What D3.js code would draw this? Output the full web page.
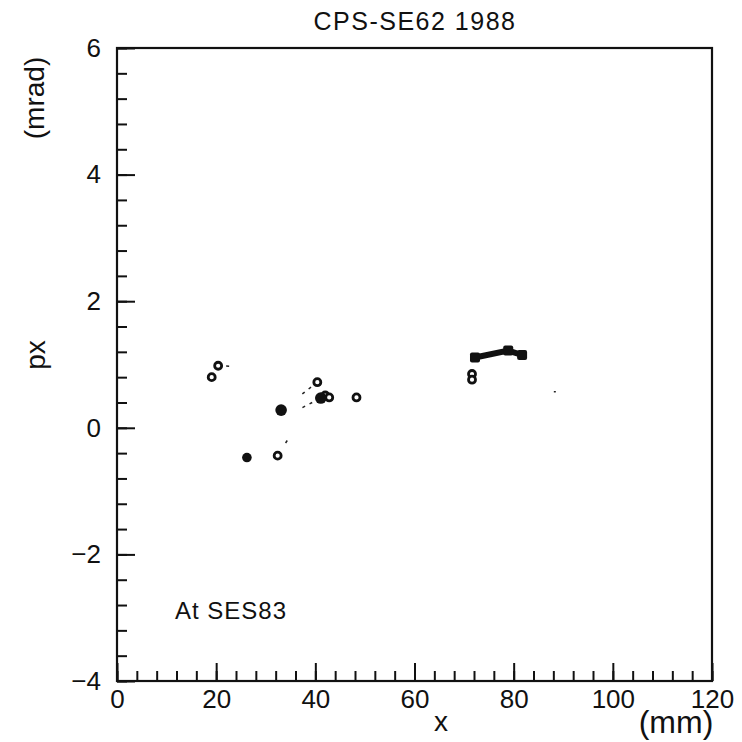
<!DOCTYPE html>
<html>
<head>
<meta charset="utf-8">
<script src="https://cdn.jsdelivr.net/npm/d3@7"></script>
<style>
  body { margin: 0; background: #fff; }
  svg text { font-family: "Liberation Sans", Arial, sans-serif; fill: #111; }
</style>
</head>
<body>
<figure id="plot" style="margin:0"></figure>
<script>
// values
const title = "CPS-SE62 1988";
const note = "At SES83";
const xMajor = [0, 20, 40, 60, 80, 100, 120];
const yMajor = [-4, -2, 0, 2, 4, 6];

// open circles (x mm, px mrad)
const openX = [19.1, 20.4, 32.4, 40.4, 42.0, 42.8, 48.3, 71.6, 71.6];
const openY = [0.80, 0.98, -0.44, 0.72, 0.51, 0.48, 0.48, 0.85, 0.76];
// filled dots
const fillX = [26.2, 33.1, 41.1];
const fillY = [-0.47, 0.28, 0.47];
// thick track with square ends
const trackX = [72.2, 78.9, 81.7];
const trackY = [1.11, 1.22, 1.15];
// faint dashed traces
const traces = [
  [[20.4, 0.98], [23.6, 0.97]],
  [[40.4, 0.72], [36.8, 0.50]],
  [[37.4, 0.32], [41.1, 0.47]],
  [[34.0, -0.24], [34.5, -0.18]],
  [[88.1, 0.57], [88.5, 0.57]]
];

const W = 742, H = 742;
const mL = 117, mR = 712, mT = 48, mB = 681;

const svg = d3.select("#plot")
  .append("svg")
  .attr("width", W)
  .attr("height", H);

const x = d3.scaleLinear().domain([0, 120]).range([mL, mR]);
const y = d3.scaleLinear().domain([-4, 6]).range([mB, mT]);

// frame
svg.append("rect")
  .attr("x", mL).attr("y", mT)
  .attr("width", mR - mL).attr("height", mB - mT)
  .attr("fill", "none").attr("stroke", "#111").attr("stroke-width", 2.2);

// x axis: minor then major (ticks point inward)
svg.append("g")
  .attr("transform", "translate(0," + mB + ")")
  .call(d3.axisBottom(x).tickValues(d3.range(0, 121, 4)).tickSizeInner(-10).tickSizeOuter(0).tickFormat(""))
  .call(g => g.select(".domain").remove());
const xa = svg.append("g")
  .attr("transform", "translate(0," + mB + ")")
  .call(d3.axisBottom(x).tickValues(xMajor).tickSizeInner(-18).tickSizeOuter(0).tickPadding(9))
  .call(g => g.select(".domain").remove());
xa.selectAll("text").style("font-size", "26px");

// y axis
svg.append("g")
  .attr("transform", "translate(" + mL + ",0)")
  .call(d3.axisLeft(y).tickValues(d3.range(-4, 6.01, 0.4)).tickSizeInner(-10).tickSizeOuter(0).tickFormat(""))
  .call(g => g.select(".domain").remove());
const ya = svg.append("g")
  .attr("transform", "translate(" + mL + ",0)")
  .call(d3.axisLeft(y).tickValues(yMajor).tickSizeInner(-18).tickSizeOuter(0).tickPadding(16)
    .tickFormat(d => d < 0 ? "\u2212" + Math.abs(d) : d))
  .call(g => g.select(".domain").remove());
ya.selectAll("text").style("font-size", "26px");

svg.selectAll(".tick line").attr("stroke", "#111").attr("stroke-width", 2);

// title and labels
svg.append("text").attr("x", 415).attr("y", 30).attr("text-anchor", "middle")
  .style("font-size", "25px").style("letter-spacing", "1.5px").text(title);
svg.append("text").attr("x", 175).attr("y", 619)
  .style("font-size", "24px").style("letter-spacing", "1px").text(note);
svg.append("text").attr("transform", "translate(45,355) rotate(-90)").attr("text-anchor", "middle")
  .style("font-size", "28px").text("px");
svg.append("text").attr("transform", "translate(44,98) rotate(-90)").attr("text-anchor", "middle")
  .style("font-size", "28px").text("(mrad)");
svg.append("text").attr("x", 441).attr("y", 731).attr("text-anchor", "middle")
  .style("font-size", "28px").text("x");
svg.append("text").attr("x", 676).attr("y", 733).attr("text-anchor", "middle")
  .style("font-size", "32px").text("(mm)");

// faint dashed traces
const line = d3.line().x(d => x(d[0])).y(d => y(d[1]));
svg.selectAll(".trace")
  .data(traces)
  .enter()
  .append("path")
  .attr("d", line)
  .attr("fill", "none").attr("stroke", "#222").attr("stroke-width", 1.5)
  .attr("stroke-dasharray", "3,5");

// thick track
const track = trackX.map((v, i) => [v, trackY[i]]);
svg.append("path")
  .attr("d", line(track))
  .attr("fill", "none").attr("stroke", "#111").attr("stroke-width", 6)
  .attr("stroke-linecap", "round");
svg.selectAll(".sq")
  .data(track)
  .enter()
  .append("rect")
  .attr("x", d => x(d[0]) - 5).attr("y", d => y(d[1]) - 5)
  .attr("width", 10).attr("height", 10).attr("rx", 2)
  .attr("fill", "#111");

// open circles
svg.selectAll(".open")
  .data(openX.map((v, i) => [v, openY[i]]))
  .enter()
  .append("circle")
  .attr("cx", d => x(d[0])).attr("cy", d => y(d[1]))
  .attr("r", 3.5)
  .attr("fill", "#fff").attr("stroke", "#111").attr("stroke-width", 2.8);

// filled dots
svg.selectAll(".fill")
  .data(fillX.map((v, i) => [v, fillY[i]]))
  .enter()
  .append("circle")
  .attr("cx", d => x(d[0])).attr("cy", d => y(d[1]))
  .attr("r", (d, i) => i === 0 ? 4.8 : 5.8)
  .attr("fill", "#111");
</script>
</body>
</html>
